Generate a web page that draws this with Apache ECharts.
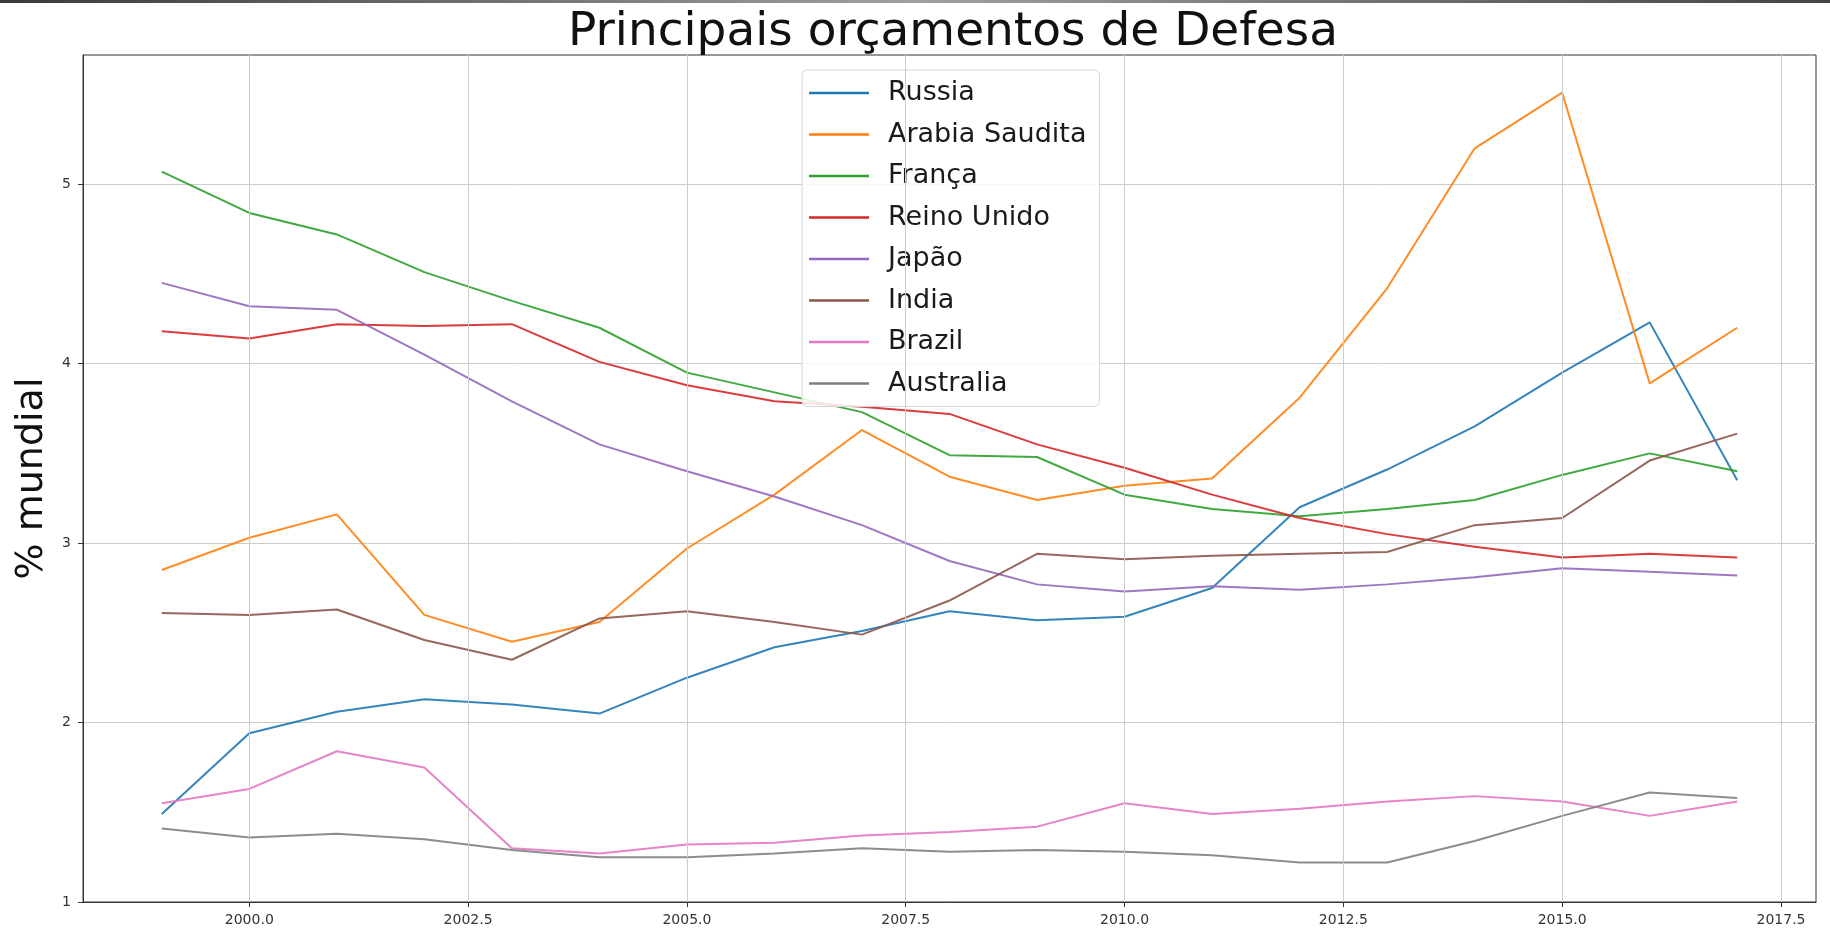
<!DOCTYPE html>
<html>
<head>
<meta charset="utf-8">
<script src="https://cdn.jsdelivr.net/npm/echarts@6/dist/echarts.min.js"></script>
<style>
  html, body { margin: 0; padding: 0; background: #fff; }
  #main { width: 1830px; height: 933px; }
</style>
</head>
<body>
<div id="main"></div>
<script>
  // dados (% do gasto militar mundial)
  var anos = [1999, 2000, 2001, 2002, 2003, 2004, 2005, 2006, 2007, 2008, 2009, 2010, 2011, 2012, 2013, 2014, 2015, 2016, 2017];
  var russia    = [1.49, 1.94, 2.06, 2.13, 2.10, 2.05, 2.25, 2.42, 2.51, 2.62, 2.57, 2.59, 2.75, 3.20, 3.41, 3.65, 3.95, 4.23, 3.35];
  var arabia    = [2.85, 3.03, 3.16, 2.60, 2.45, 2.56, 2.97, 3.27, 3.63, 3.37, 3.24, 3.32, 3.36, 3.81, 4.42, 5.20, 5.51, 3.89, 4.20];
  var franca    = [5.07, 4.84, 4.72, 4.51, 4.35, 4.20, 3.95, 3.84, 3.73, 3.49, 3.48, 3.27, 3.19, 3.15, 3.19, 3.24, 3.38, 3.50, 3.40];
  var reino     = [4.18, 4.14, 4.22, 4.21, 4.22, 4.01, 3.88, 3.79, 3.76, 3.72, 3.55, 3.42, 3.27, 3.14, 3.05, 2.98, 2.92, 2.94, 2.92];
  var japao     = [4.45, 4.32, 4.30, 4.05, 3.79, 3.55, 3.40, 3.26, 3.10, 2.90, 2.77, 2.73, 2.76, 2.74, 2.77, 2.81, 2.86, 2.84, 2.82];
  var india     = [2.61, 2.60, 2.63, 2.46, 2.35, 2.58, 2.62, 2.56, 2.49, 2.68, 2.94, 2.91, 2.93, 2.94, 2.95, 3.10, 3.14, 3.46, 3.61];
  var brazil    = [1.55, 1.63, 1.84, 1.75, 1.30, 1.27, 1.32, 1.33, 1.37, 1.39, 1.42, 1.55, 1.49, 1.52, 1.56, 1.59, 1.56, 1.48, 1.56];
  var australia = [1.41, 1.36, 1.38, 1.35, 1.29, 1.25, 1.25, 1.27, 1.30, 1.28, 1.29, 1.28, 1.26, 1.22, 1.22, 1.34, 1.48, 1.61, 1.58];

  var nomes = ['Russia', 'Arabia Saudita', 'França', 'Reino Unido', 'Japão', 'India', 'Brazil', 'Australia'];
  var valores = [russia, arabia, franca, reino, japao, india, brazil, australia];
  var cores = ['#1f77b4', '#ff7f0e', '#2ca02c', '#d62728', '#9467bd', '#8c564b', '#e377c2', '#7f7f7f'];

  var xTicks = [2000, 2002.5, 2005, 2007.5, 2010, 2012.5, 2015, 2017.5];
  var yTicks = [1, 2, 3, 4, 5];

  var fonte = 'DejaVu Sans';
  var corGrade = '#cccccc';

  var myChart = echarts.init(document.getElementById('main'));

  var series = [];
  // linhas verticais da grade
  series.push({
    name: 'grade',
    type: 'line',
    data: [],
    silent: true,
    z: 1,
    markLine: {
      silent: true,
      symbol: 'none',
      animation: false,
      label: { show: false },
      lineStyle: { color: corGrade, width: 1, type: 'solid' },
      data: xTicks.map(function (v) { return { xAxis: v }; })
    }
  });
  for (var i = 0; i < nomes.length; i++) {
    series.push({
      name: nomes[i],
      type: 'line',
      symbol: 'none',
      z: 3,
      lineStyle: { color: cores[i], width: 2, opacity: 0.9 },
      itemStyle: { color: cores[i] },
      data: anos.map(function (a, k) { return [a, valores[i][k]]; })
    });
  }

  var option = {
    animation: false,
    backgroundColor: '#ffffff',
    title: {
      text: 'Principais orçamentos de Defesa',
      left: 948,
      top: 4,
      textAlign: 'center',
      textStyle: { fontFamily: fonte, fontSize: 47, fontWeight: 'normal', color: '#111' }
    },
    legend: {
      data: nomes,
      orient: 'vertical',
      left: 802,
      top: 70,
      padding: [8, 13, 8, 7],
      icon: 'rect',
      itemWidth: 60,
      itemHeight: 2.5,
      itemGap: 11.5,
      backgroundColor: 'rgba(255,255,255,0.85)',
      borderColor: '#d6d6d6',
      borderWidth: 1,
      borderRadius: 5,
      textStyle: { fontFamily: fonte, fontSize: 27, color: '#1a1a1a', lineHeight: 30, padding: [0, 0, 0, 14] }
    },
    grid: {
      left: 83,
      right: 14,
      top: 55,
      bottom: 31,
      show: true,
      borderColor: '#333',
      borderWidth: 1,
      containLabel: false
    },
    xAxis: {
      type: 'value',
      min: 1998.1,
      max: 2017.9,
      axisLine: { show: true, lineStyle: { color: '#333', width: 1 } },
      axisTick: { show: true, length: 5, customValues: xTicks, lineStyle: { color: '#333' } },
      axisLabel: {
        customValues: xTicks,
        margin: 11,
        fontFamily: fonte,
        fontSize: 14,
        color: '#333',
        formatter: function (v) { return v.toFixed(1); }
      },
      splitLine: { show: false }
    },
    yAxis: {
      type: 'value',
      min: 1,
      max: 5.72,
      interval: 1,
      name: '% mundial',
      nameLocation: 'middle',
      nameGap: 20,
      nameRotate: 90,
      nameTextStyle: { fontFamily: fonte, fontSize: 38, color: '#111' },
      axisLine: { show: true, lineStyle: { color: '#333', width: 1 } },
      axisTick: { show: true, length: 5, customValues: yTicks, lineStyle: { color: '#333' } },
      axisLabel: {
        customValues: yTicks,
        margin: 12,
        fontFamily: fonte,
        fontSize: 14,
        color: '#333'
      },
      splitLine: { show: true, lineStyle: { color: corGrade, width: 1 } }
    },
    graphic: [{
      type: 'rect',
      left: 0,
      top: 0,
      shape: { width: 1830, height: 3 },
      style: {
        fill: new echarts.graphic.LinearGradient(0, 0, 1, 0, [
          { offset: 0, color: '#3a3a3a' },
          { offset: 0.5, color: '#a0a0a0' },
          { offset: 1, color: '#444444' }
        ])
      },
      silent: true
    }],
    series: series
  };

  myChart.setOption(option);
</script>
</body>
</html>
